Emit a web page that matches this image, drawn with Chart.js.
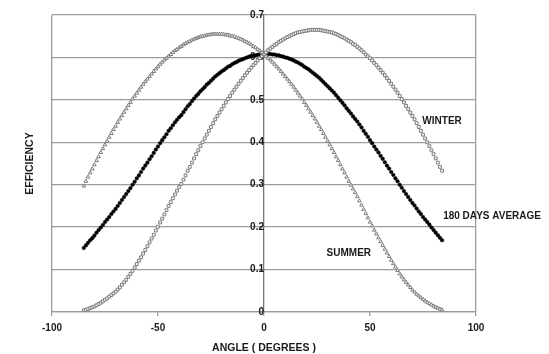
<!DOCTYPE html>
<html>
<head>
<meta charset="utf-8">
<script src="https://cdn.jsdelivr.net/npm/chart.js@4.4.1/dist/chart.umd.min.js"></script>
<style>
  html, body { margin: 0; padding: 0; background: #fff; }
  #wrap { width: 549px; height: 354px; }
</style>
</head>
<body>
<div id="wrap"><canvas id="myChart" width="549" height="354"></canvas></div>
<script>
// angle in degrees, one reading per degree
const angles = [
  -85, -84, -83, -82, -81, -80, -79, -78, -77, -76,
  -75, -74, -73, -72, -71, -70, -69, -68, -67, -66,
  -65, -64, -63, -62, -61, -60, -59, -58, -57, -56,
  -55, -54, -53, -52, -51, -50, -49, -48, -47, -46,
  -45, -44, -43, -42, -41, -40, -39, -38, -37, -36,
  -35, -34, -33, -32, -31, -30, -29, -28, -27, -26,
  -25, -24, -23, -22, -21, -20, -19, -18, -17, -16,
  -15, -14, -13, -12, -11, -10, -9, -8, -7, -6,
  -5, -4, -3, -2, -1, 0, 1, 2, 3, 4,
  5, 6, 7, 8, 9, 10, 11, 12, 13, 14,
  15, 16, 17, 18, 19, 20, 21, 22, 23, 24,
  25, 26, 27, 28, 29, 30, 31, 32, 33, 34,
  35, 36, 37, 38, 39, 40, 41, 42, 43, 44,
  45, 46, 47, 48, 49, 50, 51, 52, 53, 54,
  55, 56, 57, 58, 59, 60, 61, 62, 63, 64,
  65, 66, 67, 68, 69, 70, 71, 72, 73, 74,
  75, 76, 77, 78, 79, 80, 81, 82, 83, 84
]

const summer = [
  0.297, 0.308, 0.318, 0.328, 0.337, 0.347, 0.357, 0.366, 0.376, 0.385,
  0.394, 0.403, 0.412, 0.421, 0.430, 0.438, 0.447, 0.455, 0.463, 0.471,
  0.479, 0.487, 0.494, 0.502, 0.509, 0.516, 0.523, 0.530, 0.537, 0.543,
  0.549, 0.555, 0.561, 0.567, 0.573, 0.578, 0.584, 0.589, 0.594, 0.598,
  0.603, 0.607, 0.612, 0.616, 0.619, 0.623, 0.626, 0.630, 0.633, 0.636,
  0.638, 0.641, 0.643, 0.645, 0.647, 0.649, 0.650, 0.651, 0.653, 0.653,
  0.654, 0.655, 0.655, 0.655, 0.655, 0.655, 0.654, 0.653, 0.653, 0.651,
  0.650, 0.649, 0.647, 0.645, 0.643, 0.641, 0.638, 0.636, 0.633, 0.630,
  0.626, 0.623, 0.619, 0.616, 0.612, 0.607, 0.603, 0.598, 0.594, 0.589,
  0.584, 0.578, 0.573, 0.567, 0.561, 0.555, 0.549, 0.543, 0.537, 0.530,
  0.523, 0.516, 0.509, 0.502, 0.494, 0.487, 0.479, 0.471, 0.463, 0.455,
  0.447, 0.438, 0.430, 0.421, 0.412, 0.403, 0.394, 0.385, 0.376, 0.366,
  0.357, 0.347, 0.337, 0.328, 0.318, 0.308, 0.299, 0.290, 0.281, 0.272,
  0.262, 0.252, 0.242, 0.232, 0.222, 0.212, 0.203, 0.193, 0.184, 0.175,
  0.166, 0.157, 0.148, 0.139, 0.131, 0.122, 0.114, 0.106, 0.098, 0.090,
  0.083, 0.076, 0.070, 0.064, 0.058, 0.052, 0.047, 0.042, 0.038, 0.034,
  0.030, 0.026, 0.023, 0.020, 0.017, 0.014, 0.011, 0.009, 0.007, 0.005
]

const winter = [
  0.004, 0.005, 0.007, 0.009, 0.011, 0.013, 0.016, 0.019, 0.022, 0.025,
  0.029, 0.032, 0.036, 0.040, 0.044, 0.048, 0.053, 0.058, 0.064, 0.070,
  0.076, 0.083, 0.090, 0.097, 0.105, 0.113, 0.121, 0.129, 0.138, 0.146,
  0.155, 0.164, 0.173, 0.182, 0.192, 0.201, 0.211, 0.220, 0.230, 0.240,
  0.250, 0.259, 0.268, 0.277, 0.286, 0.295, 0.302, 0.312, 0.322, 0.333,
  0.342, 0.352, 0.362, 0.372, 0.381, 0.391, 0.400, 0.409, 0.418, 0.427,
  0.436, 0.445, 0.454, 0.462, 0.470, 0.478, 0.486, 0.494, 0.502, 0.509,
  0.517, 0.524, 0.531, 0.538, 0.545, 0.551, 0.558, 0.564, 0.570, 0.576,
  0.582, 0.587, 0.593, 0.598, 0.603, 0.607, 0.612, 0.617, 0.621, 0.625,
  0.629, 0.632, 0.636, 0.639, 0.642, 0.645, 0.648, 0.650, 0.653, 0.655,
  0.657, 0.659, 0.660, 0.661, 0.662, 0.663, 0.664, 0.665, 0.665, 0.665,
  0.665, 0.665, 0.664, 0.663, 0.662, 0.661, 0.660, 0.659, 0.657, 0.655,
  0.653, 0.650, 0.648, 0.645, 0.642, 0.639, 0.636, 0.632, 0.629, 0.625,
  0.621, 0.617, 0.612, 0.607, 0.603, 0.598, 0.593, 0.587, 0.582, 0.576,
  0.570, 0.564, 0.558, 0.551, 0.545, 0.538, 0.531, 0.524, 0.517, 0.509,
  0.502, 0.494, 0.486, 0.478, 0.470, 0.462, 0.454, 0.445, 0.436, 0.427,
  0.418, 0.409, 0.400, 0.391, 0.381, 0.372, 0.362, 0.352, 0.342, 0.333
]

const average = [
  0.151, 0.157, 0.163, 0.169, 0.174, 0.180, 0.187, 0.193, 0.199, 0.205,
  0.212, 0.218, 0.224, 0.231, 0.237, 0.243, 0.250, 0.257, 0.264, 0.271,
  0.278, 0.285, 0.292, 0.300, 0.307, 0.315, 0.322, 0.330, 0.338, 0.345,
  0.352, 0.360, 0.367, 0.375, 0.383, 0.390, 0.398, 0.405, 0.412, 0.419,
  0.427, 0.433, 0.440, 0.447, 0.453, 0.459, 0.464, 0.471, 0.478, 0.485,
  0.490, 0.497, 0.503, 0.509, 0.514, 0.520, 0.525, 0.530, 0.536, 0.540,
  0.545, 0.550, 0.555, 0.559, 0.563, 0.567, 0.570, 0.574, 0.578, 0.580,
  0.584, 0.587, 0.589, 0.592, 0.594, 0.596, 0.598, 0.600, 0.602, 0.603,
  0.604, 0.605, 0.606, 0.607, 0.608, 0.607, 0.608, 0.608, 0.608, 0.607,
  0.607, 0.605, 0.605, 0.603, 0.602, 0.600, 0.599, 0.597, 0.595, 0.593,
  0.590, 0.588, 0.585, 0.582, 0.578, 0.575, 0.572, 0.568, 0.564, 0.560,
  0.556, 0.552, 0.547, 0.542, 0.537, 0.532, 0.527, 0.522, 0.517, 0.511,
  0.505, 0.499, 0.493, 0.487, 0.480, 0.474, 0.468, 0.461, 0.455, 0.449,
  0.442, 0.435, 0.427, 0.420, 0.413, 0.405, 0.398, 0.390, 0.383, 0.376,
  0.368, 0.361, 0.353, 0.345, 0.338, 0.330, 0.323, 0.315, 0.308, 0.300,
  0.293, 0.285, 0.278, 0.271, 0.264, 0.257, 0.251, 0.244, 0.237, 0.231,
  0.224, 0.218, 0.212, 0.206, 0.199, 0.193, 0.187, 0.181, 0.175, 0.169
]

// curve labels: [text, angle, efficiency, align]
const curveLabels = [
  ['WINTER', 84, 0.45, 'center'],
  ['180 DAYS AVERAGE', 84.5, 0.226, 'left'],
  ['SUMMER', 40, 0.139, 'center']
]

const font = '"Liberation Sans", Arial, sans-serif'
const textColor = '#1a1a1a'
const gridColor = '#9c9c9c'

function points(values) {
  return angles.map((a, i) => ({ x: a, y: values[i] }))
}

const labelPlugin = {
  id: 'curveLabels',
  afterDatasetsDraw(chart) {
    const ctx = chart.ctx
    const xs = chart.scales.x
    const ys = chart.scales.y
    ctx.save()
    ctx.fillStyle = textColor
    ctx.font = 'bold 10px ' + font
    ctx.textBaseline = 'middle'
    curveLabels.forEach(function (l) {
      ctx.textAlign = l[3]
      ctx.fillText(l[0], xs.getPixelForValue(l[1]), ys.getPixelForValue(l[2]))
    })
    // y axis title sits at the left edge, the axis itself is at angle 0
    const area = chart.chartArea
    ctx.translate(area.left - 22, (area.top + area.bottom) / 2)
    ctx.rotate(-Math.PI / 2)
    ctx.textAlign = 'center'
    ctx.font = 'bold 10.5px ' + font
    ctx.fillText('EFFICIENCY', 0, 0)
    ctx.restore()
  }
}

const ctx = document.getElementById('myChart').getContext('2d')
new Chart(ctx, {
  type: 'line',
  data: {
    datasets: [
      {
        label: 'SUMMER',
        data: points(summer),
        showLine: false,
        pointStyle: 'triangle',
        pointRadius: 2.1,
        pointBorderWidth: 1,
        borderColor: '#7c7c7c',
        backgroundColor: '#ffffff'
      },
      {
        label: 'WINTER',
        data: points(winter),
        showLine: false,
        pointStyle: 'rect',
        pointRadius: 2,
        pointBorderWidth: 1,
        borderColor: '#7c7c7c',
        backgroundColor: '#ffffff'
      },
      {
        label: '180 DAYS AVERAGE',
        data: points(average),
        showLine: false,
        pointStyle: 'circle',
        pointRadius: 1.8,
        pointBorderWidth: 0.5,
        borderColor: '#000000',
        backgroundColor: '#000000'
      }
    ]
  },
  options: {
    responsive: false,
    animation: false,
    layout: { padding: { left: 52, right: 73, top: 15, bottom: 0 } },
    plugins: {
      legend: { display: false },
      tooltip: { enabled: false }
    },
    scales: {
      x: {
        type: 'linear',
        min: -100,
        max: 100,
        afterFit: function (s) { s.height = 42 },
        ticks: {
          stepSize: 50,
          padding: 6,
          color: textColor,
          font: { family: font, size: 10, weight: 'bold' }
        },
        grid: {
          drawOnChartArea: true,
          color: function (c) { return Math.abs(c.tick.value) === 100 ? gridColor : 'rgba(0,0,0,0)' },
          tickColor: gridColor,
          tickLength: 4,
          lineWidth: 1.3
        },
        border: { display: true, color: gridColor, width: 1.3 },
        title: {
          display: true,
          text: 'ANGLE ( DEGREES )',
          color: textColor,
          font: { family: font, size: 10.5, weight: 'bold' },
          padding: { top: 6, bottom: 0 }
        }
      },
      y: {
        position: { x: 0 },
        min: 0,
        max: 0.7,
        ticks: {
          stepSize: 0.1,
          padding: 2,
          color: textColor,
          font: { family: font, size: 10, weight: 'bold' },
          callback: function (v) { return v === 0 ? '0' : v.toFixed(1) }
        },
        grid: { color: gridColor, lineWidth: 1.3, tickLength: 4, tickColor: '#777' },
        border: { display: true, color: '#777', width: 1.3 }
      }
    }
  },
  plugins: [labelPlugin]
})
</script>
</body>
</html>
